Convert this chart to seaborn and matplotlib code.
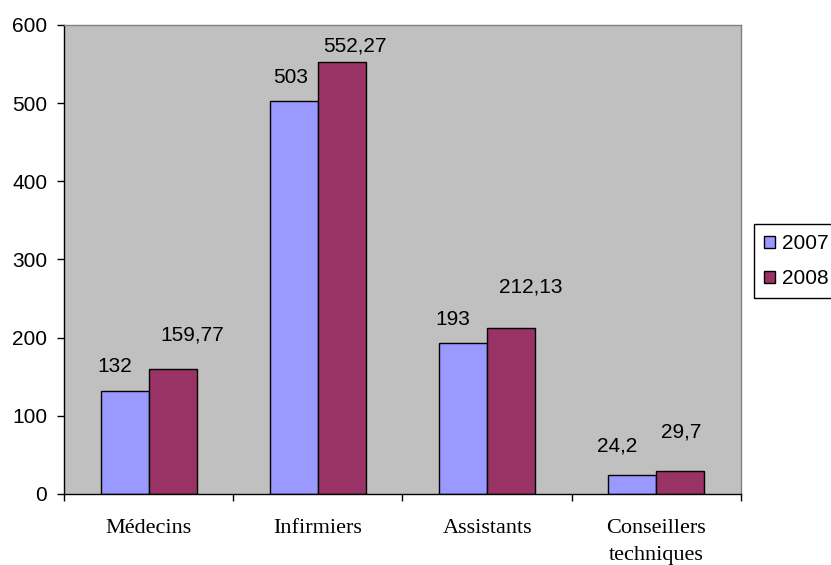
import seaborn as sns
import matplotlib.pyplot as plt
import pandas as pd
from matplotlib.ticker import FixedLocator

categories = ['Médecins', 'Infirmiers', 'Assistants', 'Conseillers\ntechniques']
years = ['2007', '2008']
values_2007 = [132, 503, 193, 24.2]
values_2008 = [159.77, 552.27, 212.13, 29.7]
y_ticks = [0, 100, 200, 300, 400, 500, 600]

# label offsets in pixels (dx, dy) relative to bar top, as placed in the original
offsets_2007 = [(-10, 24), (-3, 23), (-10, 24), (-15, 29)]
offsets_2008 = [(20, 34), (13, 16), (20, 41), (1, 39)]

df = pd.DataFrame({
    'categorie': categories * 2,
    'annee': [years[0]] * 4 + [years[1]] * 4,
    'valeur': values_2007 + values_2008,
})

sns.set_style('white')
plt.rcParams['font.family'] = ['Liberation Sans', 'DejaVu Sans']
plt.rcParams.update({'text.color': 'black', 'axes.labelcolor': 'black',
                     'xtick.color': 'black', 'ytick.color': 'black'})

fig = plt.figure(figsize=(8.31, 5.65), dpi=100)
ax = fig.add_axes([0.077, 0.1257, 0.8147, 0.8301])
ax.set_facecolor('#C0C0C0')

sns.barplot(data=df, x='categorie', y='valeur', hue='annee', order=categories,
            hue_order=years, palette=['#9999FF', '#993366'], width=0.567,
            edgecolor='black', linewidth=1, saturation=1, ax=ax)

for container, offs in zip(ax.containers, [offsets_2007, offsets_2008]):
    for bar, (dx, dy) in zip(container, offs):
        h = bar.get_height()
        txt = format(h, 'g').replace('.', ',')
        ax.annotate(txt, (bar.get_x() + bar.get_width() / 2, h),
                    xytext=(dx, dy), textcoords='offset pixels',
                    ha='center', va='center', fontsize=15, color='black')

ax.set_xlim(-0.5, 3.5)
ax.set_ylim(0, 600)
ax.set_yticks(y_ticks)
ax.set_xlabel('')
ax.set_ylabel('')

ax.tick_params(axis='y', which='major', direction='out', length=5, width=1,
               labelsize=15, pad=7, left=True, color='black', labelcolor='black')
ax.tick_params(axis='x', which='major', length=0, pad=18, labelcolor='black')
ax.xaxis.set_minor_locator(FixedLocator([-0.5, 0.5, 1.5, 2.5, 3.5]))
ax.tick_params(axis='x', which='minor', direction='out', length=5, width=1,
               bottom=True, color='black')
for lab in ax.get_xticklabels():
    lab.set_family('Liberation Serif')
    lab.set_fontsize(16)
    lab.set_linespacing(1.6)

for side in ['left', 'bottom']:
    ax.spines[side].set_color('black')
    ax.spines[side].set_linewidth(1)
for side in ['top', 'right']:
    ax.spines[side].set_color('#808080')
    ax.spines[side].set_linewidth(1)

handles, labels = ax.get_legend_handles_labels()
leg = ax.legend(handles, labels, loc='upper left', bbox_to_anchor=(0.907, 0.6035),
                bbox_transform=fig.transFigure, fontsize=15, frameon=True,
                fancybox=False, edgecolor='black', framealpha=1,
                handlelength=0.5, handleheight=0.5, handletextpad=0.35,
                labelspacing=0.75, borderpad=0.5, borderaxespad=0)
leg.get_frame().set_linewidth(1)
for t in leg.get_texts():
    t.set_color('black')

fig.savefig('out.png', dpi=100, facecolor='white')
